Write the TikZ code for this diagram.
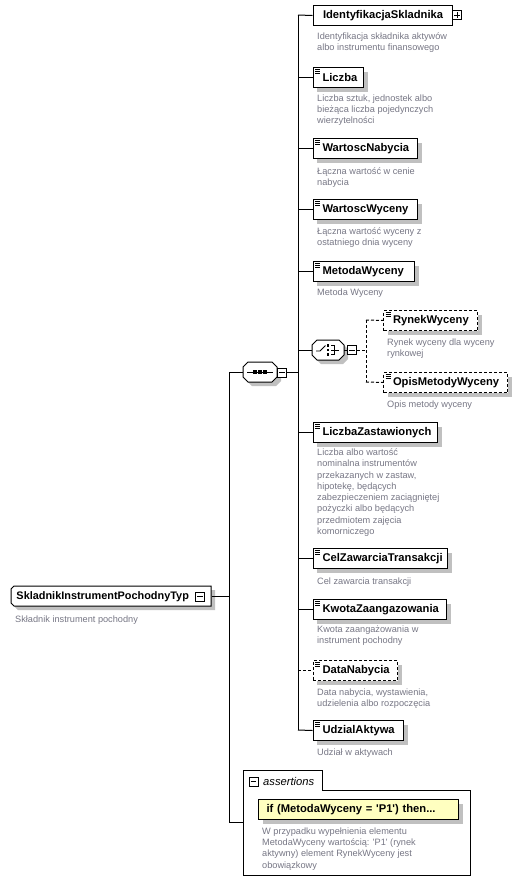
\documentclass[tikz,border=0pt]{standalone}
\usepackage{fontspec}
\setmainfont{Liberation Sans}
\usetikzlibrary{shadows}
\definecolor{desc}{RGB}{118,118,132}
\definecolor{shd}{RGB}{192,192,192}
\definecolor{asy}{RGB}{255,255,192}
\newcommand\nmfont{\fontsize{11.2}{13}\selectfont\bfseries}
\newcommand\dscfont{\fontsize{9.2}{11.3}\selectfont}
\newcommand\pmminus[1]{\draw[line width=0.8pt] ([xshift=2pt]#1.west) -- ([xshift=-2pt]#1.east);}
\newcommand\pmplus[1]{\pmminus{#1}\draw[line width=0.8pt] ([yshift=-2pt]#1.north) -- ([yshift=2pt]#1.south);}
\newcommand\elicon[1]{\foreach \d in {2.5,4.5,6.5}{\draw[line width=0.7pt] ([xshift=2.5pt,yshift=-\d pt]#1.north west) -- ++(5,0);}}
% octagon: #1 cx, #2 cy, #3 half width (half height 10, chamfer 5)
\newcommand\octa[3]{%
  \fill[shd] (#1-#3+9,#2-6) -- (#1+#3-1,#2-6) -- (#1+#3+4,#2-1) -- (#1+#3+4,#2+9) -- (#1+#3-1,#2+14) -- (#1-#3+9,#2+14) -- (#1-#3+4,#2+9) -- (#1-#3+4,#2-1) -- cycle;
  \draw[line width=1pt,fill=white] (#1-#3+5,#2-10) -- (#1+#3-5,#2-10) -- (#1+#3,#2-5) -- (#1+#3,#2+5) -- (#1+#3-5,#2+10) -- (#1-#3+5,#2+10) -- (#1-#3,#2+5) -- (#1-#3,#2-5) -- cycle;}
\tikzset{
  shadowed/.style={drop shadow={shadow xshift=4pt, shadow yshift=-4pt, fill=shd, draw=none, opacity=1}},
  elem/.style={draw, line width=1pt, fill=white, minimum height=20pt, inner xsep=0pt, inner ysep=0pt, align=left, anchor=north west, font=\nmfont},
  optelem/.style={elem, dash pattern=on 3pt off 2pt},
  dsc/.style={anchor=north west, inner sep=0pt, align=left, text=desc, font=\dscfont},
  pm/.style={draw, fill=white, minimum size=9pt, inner sep=0pt, line width=0.8pt},
  conn/.style={line width=1pt},
  dconn/.style={line width=1pt, dash pattern=on 3pt off 2pt},
  hook/.style={inner sep=0pt, minimum height=20pt},
}
\begin{document}
\begin{tikzpicture}[x=1pt,y=-1pt]
\useasboundingbox (0,0) rectangle (523,881);

% ---- root
\fill[shd] (18,590) -- (215,590) -- (215,610) -- (18,610) -- (15,607) -- (15,593) -- cycle;
\draw[line width=1pt, fill=white] (14,586) -- (211,586) -- (211,606) -- (14,606) -- (11,603) -- (11,589) -- cycle;
\node[elem, draw=none, fill=none, text width=200pt, font=\fontsize{10.9}{13}\selectfont\bfseries] (root) at (11,586) {\hspace*{5pt}SkladnikInstrumentPochodnyTyp};
\node[pm] (rootm) at (200,596.5) {}; \pmminus{rootm}
\node[dsc] (rootd) at (15,615.5) {Składnik instrument pochodny};

% ---- sequence
\octa{260}{372}{17}
\node[hook, minimum width=34pt] (seq) at (260,372) {};
\draw[line width=1pt] (247,372) -- (273,372);
\foreach \q in {255,260,265}{\fill (\q-1.75,370.25) rectangle (\q+1.75,373.75);}
\node[pm] (seqm) at (282,372.5) {}; \pmminus{seqm}

% ---- choice
\octa{328}{350}{16}
\node[hook, minimum width=32pt] (choice) at (328,350) {};
\draw[line width=0.9pt] (316,351) -- (320,351) -- (325.5,345.5);
\foreach \q in {345.5,350,354.5}{\fill (326.8,\q-1.2) rectangle (329.2,\q+1.2);}
\draw[line width=0.9pt] (331,345.5) -- (334,345.5) -- (334,354.5) -- (331,354.5);
\draw[line width=0.9pt] (331,350) -- (339,350);
\node[pm] (choicem) at (352,350) {}; \pmminus{choicem}

% ---- elements
\node[elem, text width=139.5pt] (ident) at (312.5,5) {\hspace*{10pt}IdentyfikacjaSkladnika};
\node[pm] (identp) at (457,15) {}; \pmplus{identp}
\node[dsc] (identd) at (317,32.5) {Identyfikacja składnika aktywów\\albo instrumentu finansowego};

\node[elem, shadowed, text width=50.5pt] (liczba) at (312.5,67) {\hspace*{9.5pt}Liczba}; \elicon{liczba}
\node[dsc] (liczbad) at (317,94.5) {Liczba sztuk, jednostek albo\\bieżąca liczba pojedynczych\\wierzytelności};

\node[elem, shadowed, text width=104.5pt] (wnab) at (312.5,138) {\hspace*{9.5pt}WartoscNabycia}; \elicon{wnab}
\node[dsc] (wnabd) at (317,167.5) {Łączna wartość w cenie\\nabycia};

\node[elem, shadowed, text width=104.5pt] (wwyc) at (312.5,199) {\hspace*{9.5pt}WartoscWyceny}; \elicon{wwyc}
\node[dsc] (wwycd) at (317,227.5) {Łączna wartość wyceny z\\ostatniego dnia wyceny};

\node[elem, shadowed, text width=101.5pt] (metoda) at (312.5,261) {\hspace*{9.5pt}MetodaWyceny}; \elicon{metoda}
\node[dsc] (metodad) at (317,288.5) {Metoda Wyceny};

\node[optelem, shadowed, text width=94pt] (rynek) at (383,310) {\hspace*{9.5pt}RynekWyceny}; \elicon{rynek}
\node[dsc] (rynekd) at (387,338.5) {Rynek wyceny dla wyceny\\rynkowej};

\node[optelem, shadowed, text width=124pt] (opis) at (383,372) {\hspace*{9.5pt}OpisMetodyWyceny}; \elicon{opis}
\node[dsc] (opisd) at (387,400.5) {Opis metody wyceny};

\node[elem, shadowed, text width=124.5pt] (liczz) at (312.5,422) {\hspace*{9.5pt}LiczbaZastawionych}; \elicon{liczz}
\node[dsc] (liczzd) at (317,448.5) {Liczba albo wartość\\nominalna instrumentów\\przekazanych w zastaw,\\hipotekę, będących\\zabezpieczeniem zaciągniętej\\pożyczki albo będących\\przedmiotem zajęcia\\komorniczego};

\node[elem, shadowed, text width=134.5pt] (cel) at (312.5,548) {\hspace*{9.5pt}CelZawarciaTransakcji}; \elicon{cel}
\node[dsc] (celd) at (317,577.5) {Cel zawarcia transakcji};

\node[elem, shadowed, text width=133.5pt] (kwota) at (312.5,599) {\hspace*{9.5pt}KwotaZaangazowania}; \elicon{kwota}
\node[dsc] (kwotad) at (317,625.5) {Kwota zaangażowania w\\instrument pochodny};

\node[optelem, shadowed, text width=84.5pt] (data) at (312.5,660) {\hspace*{9.5pt}DataNabycia}; \elicon{data}
\node[dsc] (datad) at (317,688.5) {Data nabycia, wystawienia,\\udzielenia albo rozpoczęcia};

\node[elem, shadowed, text width=90.5pt] (udzial) at (312.5,720) {\hspace*{9.5pt}UdzialAktywa}; \elicon{udzial}
\node[dsc] (udziald) at (317,748.5) {Udział w aktywach};

% ---- assertions
\draw[line width=1pt] (243,875) -- (243,770) -- (322,770) -- (322,790) -- (470,790) -- (470,875) -- cycle;
\node[inner sep=0pt, minimum width=227pt, minimum height=85pt, anchor=north west] (asbox) at (243,790) {};
\node[pm] (asm) at (253.5,781.5) {}; \pmminus{asm}
\node[anchor=west, inner sep=0pt, font=\fontsize{11.2}{13}\selectfont\itshape] (astxt) at (263,781) {assertions};
\node[elem, shadowed, fill=asy, text width=200pt] (cond) at (258,799) {\hspace*{8pt}if (MetodaWyceny = \textquotesingle P1\textquotesingle) then...};
\node[dsc] (condd) at (262,827.5) {W przypadku wypełnienia elementu\\MetodaWyceny wartością: \textquotesingle P1\textquotesingle{} (rynek\\aktywny) element RynekWyceny jest\\obowiązkowy};

% ---- connectors
\coordinate (ba) at (229,372);
\coordinate (as) at (243,822);
\draw[conn] (root.east) -- (root.east -| ba);
\draw[conn] (seq.west) -- (ba) |- (as);

\coordinate (ca) at (298,15);
\coordinate (cb) at (298,730);
\draw[conn] (seqm.east) -- (seqm.east -| ca);
\draw[conn] (ca) -- (cb);
\draw[conn] (ca) -- (ident.west);
\draw[conn] (liczba.west -| ca) -- (liczba.west);
\draw[conn] (wnab.west -| ca) -- (wnab.west);
\draw[conn] (wwyc.west -| ca) -- (wwyc.west);
\draw[conn] (metoda.west -| ca) -- (metoda.west);
\draw[conn] (choice.west -| ca) -- (choice.west);
\draw[conn] (liczz.west -| ca) -- (liczz.west);
\draw[conn] (cel.west -| ca) -- (cel.west);
\draw[conn] (kwota.west -| ca) -- (kwota.west);
\draw[dconn] (data.west -| ca) -- (data.west);
\draw[conn] (cb) -- (udzial.west);

\draw[conn] (choice.east) -- (choicem.west);
\coordinate (da) at (366,320);
\coordinate (db) at (366,382);
\draw[dconn] (choicem.east) -- (choicem.east -| da);
\draw[dconn] (da) -- (db);
\draw[dconn] (da) -- (rynek.west);
\draw[dconn] (db) -- (opis.west);
\end{tikzpicture}
\end{document}
